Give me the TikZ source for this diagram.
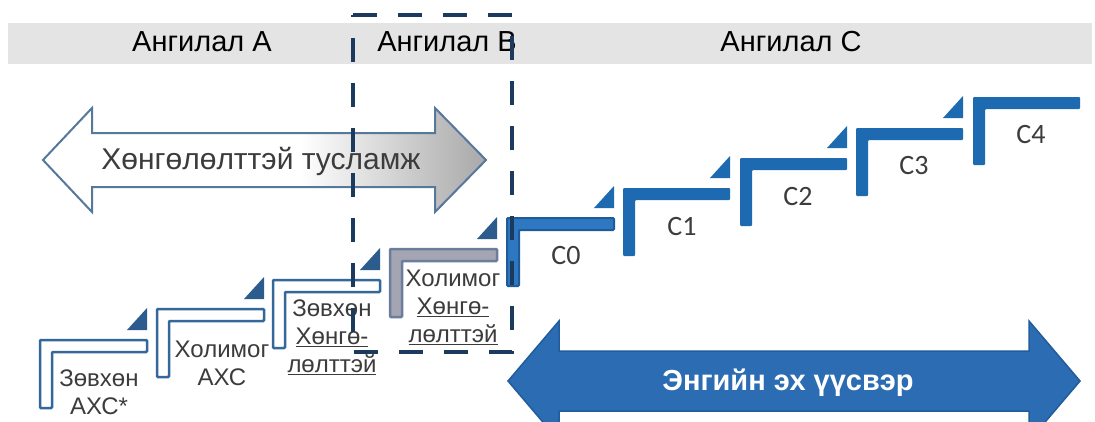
\documentclass[tikz,border=0pt]{standalone}
\usepackage{fontspec}
\setmainfont{Liberation Sans}
\newfontfamily\carlito{Carlito}
\definecolor{bandgray}{HTML}{E4E4E4}
\definecolor{helpline}{HTML}{56789C}
\definecolor{labelgray}{HTML}{3C3C3C}
\definecolor{stepAline}{HTML}{34679A}
\definecolor{triAblue}{HTML}{2C5C8E}
\definecolor{stepBline}{HTML}{6B7C9C}
\definecolor{stepBfill}{HTML}{A3A6B2}
\definecolor{stepCblue}{HTML}{1D6AB0}
\definecolor{stepCzero}{HTML}{2E78C2}
\definecolor{stepCzeroline}{HTML}{1F5A99}
\definecolor{srcblue}{HTML}{2C6CB3}
\definecolor{srcline}{HTML}{215C9C}
\definecolor{navydash}{HTML}{1B3A5E}
\pgfdeclarehorizontalshading{helpshade}{100bp}{color(0bp)=(white); color(25bp)=(white); color(54bp)=(white); color(75bp)=(black!34); color(100bp)=(black!34)}
\newcommand\stairstep[3]{\path[#1] (#2,#3) -- ++(107,0) -- ++(0,12) -- ++(-95,0) -- ++(0,56) -- ++(-12,0) -- cycle;}
\newcommand\stairtri[3]{\path[#1] (#2,#3) ++(87,-10) -- ++(20,0) -- ++(0,-22) -- cycle;}
\begin{document}
\begin{tikzpicture}[x=1pt,y=-1pt,
  stepA/.style={draw=stepAline, line width=2.5pt, fill=white, rounded corners=1pt},
  stepB/.style={draw=stepBline, line width=2.5pt, fill=stepBfill, rounded corners=1pt},
  stepCz/.style={draw=stepCzeroline, line width=2pt, fill=stepCzero, rounded corners=1pt},
  stepC/.style={fill=stepCblue, rounded corners=1pt},
  triA/.style={fill=triAblue},
  triC/.style={fill=stepCblue},
  bandlabel/.style={font=\fontsize{29}{34}\selectfont, text=black, inner sep=0pt},
  helptext/.style={font=\fontsize{30}{36}\selectfont, text=labelgray, inner sep=0pt},
  srctext/.style={font=\bfseries\fontsize{29}{34}\selectfont, text=white, inner sep=0pt},
  steplabel/.style={font=\fontsize{24}{28}\selectfont, text=labelgray, align=center, inner sep=0pt},
  clabel/.style={font=\carlito\fontsize{28}{32}\selectfont, text=labelgray, inner sep=0pt},
  dashbox/.style={draw=navydash, line width=4.5pt, dash pattern=on 24pt off 21pt},
]
\useasboundingbox (0,0) rectangle (1095,421);
\clip (0,0) rectangle (1095,421);
\fill[white] (0,0) rectangle (1095,421);
% header band
\fill[bandgray] (8,23) rectangle (1092,64);
\node[bandlabel] (catA) at (202,42) {Ангилал A};
\node[bandlabel] (catB) at (447,42) {Ангилал B};
\node[bandlabel] (catC) at (791,42) {Ангилал C};
% help arrow
\shadedraw[shading=helpshade, draw=helpline, line width=2pt, line join=miter]
  (43,160) -- (92,108) -- (92,133) -- (435,133) -- (435,108) -- (486,160)
  -- (435,212) -- (435,187) -- (92,187) -- (92,212) -- cycle;
\node[helptext] (help) at (261,161) {Хөнгөлөлттэй тусламж};
% source arrow
\filldraw[fill=srcblue, draw=srcline, line width=1.5pt, line join=miter]
  (508,381) -- (559,321) -- (559,351) -- (1029,351) -- (1029,321) -- (1080,381)
  -- (1029,441) -- (1029,411) -- (559,411) -- (559,441) -- cycle;
\node[srctext] (src) at (788,383) {Энгийн эх үүсвэр};
% stairs
\stairstep{stepA}{40}{340}
\stairstep{stepA}{157}{309}
\stairstep{stepA}{273}{280}
\stairstep{stepB}{390}{249}
\stairstep{stepCz}{507}{218}
\stairstep{stepC}{623}{188}
\stairstep{stepC}{740}{158}
\stairstep{stepC}{856}{128}
\stairstep{stepC}{973}{97}
\stairtri{triA}{40}{340}
\stairtri{triA}{157}{309}
\stairtri{triA}{273}{280}
\stairtri{triA}{390}{249}
\stairtri{triC}{507}{218}
\stairtri{triC}{623}{188}
\stairtri{triC}{740}{158}
\stairtri{triC}{856}{128}
% step labels
\node[steplabel] (s1) at (99,392) {Зөвхөн\\АХС*};
\node[steplabel] (s2) at (222,363) {Холимог\\АХС};
\node[steplabel] (s3) at (332,337) {Зөвхөн\\\underline{Хөнгө-}\\\underline{лөлттэй}};
\node[steplabel] (s4) at (453,307) {Холимог\\\underline{Хөнгө-}\\\underline{лөлттэй}};
\node[clabel] (c0) at (566,256) {C0};
\node[clabel] (c1) at (682,227) {C1};
\node[clabel] (c2) at (798,197) {C2};
\node[clabel] (c3) at (914,166) {C3};
\node[clabel] (c4) at (1031,135) {C4};
% dashed box for category B
\draw[dashbox] (353,15) -- (512,15) -- (512,352) -- (353,352) -- cycle;
\end{tikzpicture}
\end{document}
